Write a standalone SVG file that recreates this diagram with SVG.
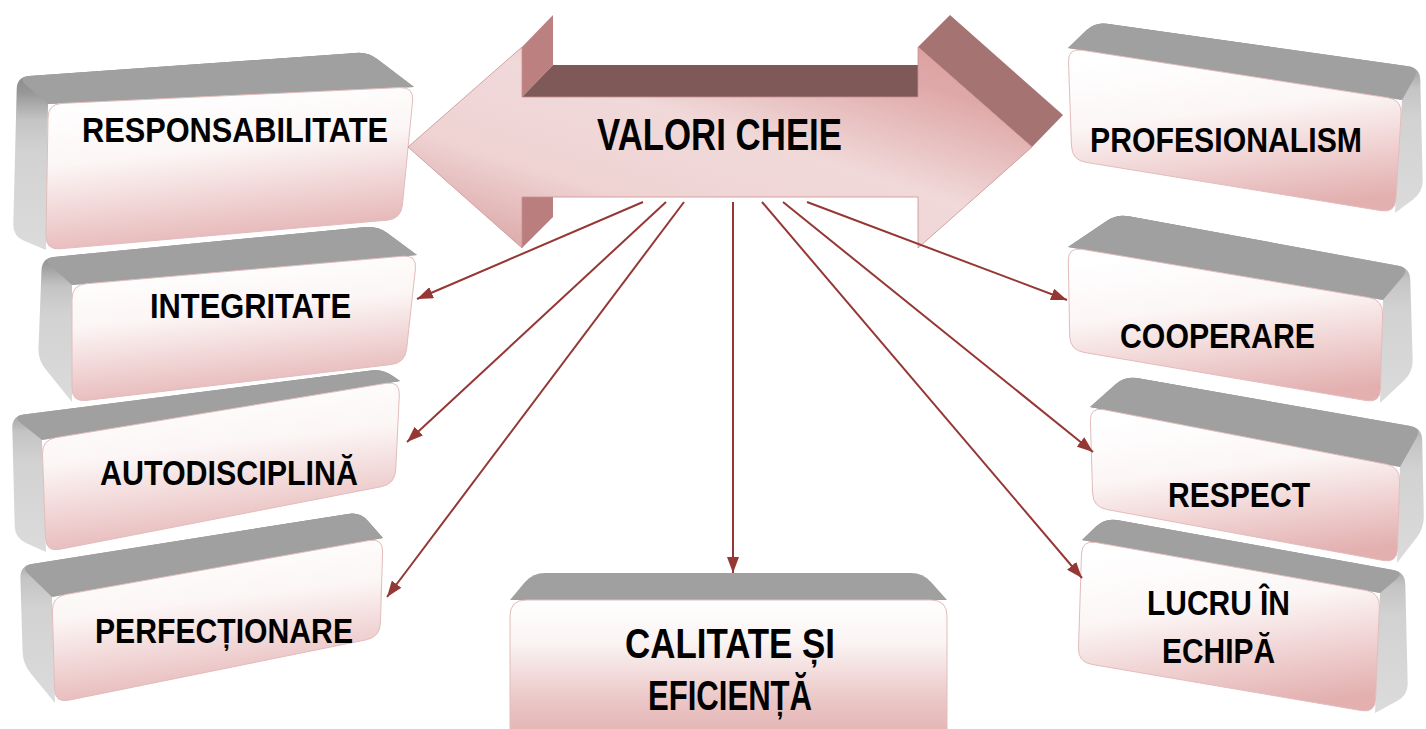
<svg xmlns="http://www.w3.org/2000/svg" width="1426" height="729" viewBox="0 0 1426 729">
<defs>
<linearGradient id="front" x1="0.35" y1="0" x2="0.6" y2="1">
<stop offset="0" stop-color="#ffffff"/>
<stop offset="0.38" stop-color="#fcf6f6"/>
<stop offset="0.72" stop-color="#efcfcf"/>
<stop offset="1" stop-color="#e3afaf"/>
</linearGradient>
<linearGradient id="frontC" x1="0" y1="0" x2="0" y2="1">
<stop offset="0" stop-color="#ffffff"/>
<stop offset="0.3" stop-color="#fbf4f4"/>
<stop offset="0.7" stop-color="#ecc8c8"/>
<stop offset="1" stop-color="#e2b0b0"/>
</linearGradient>
<linearGradient id="side" x1="0" y1="0" x2="0" y2="1">
<stop offset="0" stop-color="#7c7c7c"/>
<stop offset="0.2" stop-color="#979797"/>
<stop offset="0.34" stop-color="#c4c4c4"/>
<stop offset="0.5" stop-color="#d2d2d2"/>
<stop offset="1" stop-color="#dbdbdb"/>
</linearGradient>
<linearGradient id="arrowFront" x1="0" y1="1" x2="1" y2="0">
<stop offset="0" stop-color="#d69a9a"/>
<stop offset="0.3" stop-color="#efd3d3"/>
<stop offset="0.55" stop-color="#f1d9d9"/>
<stop offset="0.82" stop-color="#dfa8a8"/>
<stop offset="1" stop-color="#d99c9c"/>
</linearGradient>
<marker id="ah" markerWidth="16" markerHeight="12" refX="16" refY="6" orient="auto" markerUnits="userSpaceOnUse">
<path d="M0,0 L16,6 L0,12 Z" fill="#953735"/>
</marker>
</defs>
<style>
.top{fill:#a0a0a0}
.side{fill:url(#side)}
.face{fill:url(#front);stroke:#e2bcbc;stroke-width:1}
.lbl{font-family:"Liberation Sans",Arial,sans-serif;font-weight:bold;font-size:35px;fill:#000;text-anchor:middle}
.conn{stroke:#953735;stroke-width:2;fill:none;marker-end:url(#ah)}
</style>
<rect width="1426" height="729" fill="#ffffff"/>

<!-- Left column, drawn bottom to top -->
<g id="perfectionare">
<path class="side" d="M 55,703 L 30.6,673.3 Q 23,664 22.6,652 L 20.4,578 Q 20,566 31.9,564.1 L 348.1,513.9 Q 360,512 368,521 L 383,538 L 52,597 Z"/>
<path class="top" d="M 52,597 L 28.6,574.3 Q 20,566 31.9,564.1 L 348.1,513.9 Q 360,512 368,521 L 383,538 Z"/>
<path class="face" d="M 65.8,594.5 L 369.2,540.5 Q 383,538 382.6,552 L 380.4,623 Q 380,637 366.3,639.8 L 68.7,700.2 Q 55,703 54.6,689 L 52.4,611 Q 52,597 65.8,594.5 Z"/>
<text class="lbl" x="224" y="643" textLength="258" lengthAdjust="spacingAndGlyphs">PERFECȚIONARE</text>
</g>
<g id="autodisciplina">
<path class="side" d="M 46,552 L 25.9,542.9 Q 15,538 14.7,526 L 12.3,428 Q 12,416 23.9,414.5 L 371.1,370.5 Q 383,369 392.8,375.9 L 400,381 L 42,440 Z"/>
<path class="top" d="M 42,440 L 21.4,423.5 Q 12,416 23.9,414.5 L 371.1,370.5 Q 383,369 392.8,375.9 L 400,381 Z"/>
<path class="face" d="M 55.8,437.7 L 386.2,383.3 Q 400,381 399.3,395 L 395.7,470 Q 395,484 381.3,486.7 L 59.7,549.3 Q 46,552 45.5,538 L 42.5,454 Q 42,440 55.8,437.7 Z"/>
<text class="lbl" x="229" y="485" textLength="258" lengthAdjust="spacingAndGlyphs">AUTODISCIPLINĂ</text>
</g>
<g id="integritate">
<path class="side" d="M 72,402 L 45.6,369.3 Q 38,360 38.5,348 L 41.5,270 Q 42,258 53.9,256.9 L 366.1,227.1 Q 378,226 387.6,233.2 L 417,255 L 72,285 Z"/>
<path class="top" d="M 72,285 L 50.9,266 Q 42,258 53.9,256.9 L 366.1,227.1 Q 378,226 387.6,233.2 L 417,255 Z"/>
<path class="face" d="M 86,283.8 L 403,256.2 Q 417,255 415.4,269 L 406.6,349 Q 405,363 391,364.6 L 86,400.4 Q 72,402 72,388 L 72,299 Q 72,285 86,283.8 Z"/>
<text class="lbl" x="250.5" y="318" textLength="201" lengthAdjust="spacingAndGlyphs">INTEGRITATE</text>
</g>
<g id="responsabilitate">
<path class="side" d="M 46,250 L 24,240.7 Q 13,236 13.3,224 L 16.7,89 Q 17,77 29,76.1 L 356,52.9 Q 368,52 377.5,59.3 L 414,87 L 48,104 Z"/>
<path class="top" d="M 48,104 L 26,85 Q 17,77 29,76.1 L 356,52.9 Q 368,52 377.5,59.3 L 414,87 Z"/>
<path class="face" d="M 62,103.4 L 400,87.6 Q 414,87 412.6,101 L 402.4,205 Q 401,219 387,220.2 L 60,248.8 Q 46,250 46,236 L 48,118 Q 48,104 62,103.4 Z"/>
<text class="lbl" x="235" y="142" textLength="306" lengthAdjust="spacingAndGlyphs">RESPONSABILITATE</text>
</g>

<!-- Bottom centre -->
<g id="calitate">
<path class="top" d="M 545,573 L 911,573 Q 923,573 931,582 L 947,600 L 510,600 L 525,582 Q 533,573 545,573 Z"/>
<path d="M 526,600 L 931,600 Q 947,600 947,616 L 947,740 L 510,740 L 510,616 Q 510,600 526,600 Z" fill="url(#frontC)" stroke="#e2bcbc" stroke-width="1"/>
<text class="lbl" x="730" y="658" style="font-size:42px" textLength="210" lengthAdjust="spacingAndGlyphs">CALITATE ȘI</text>
<text class="lbl" x="730" y="710" style="font-size:42px" textLength="164" lengthAdjust="spacingAndGlyphs">EFICIENȚĂ</text>
</g>

<!-- Right column, drawn bottom to top -->
<g id="lucru-in-echipa">
<path class="side" d="M 1082,540 L 1096.3,526.3 Q 1105,518 1116.8,520.1 L 1393.2,569.9 Q 1405,572 1405.3,584 L 1407.7,683 Q 1408,695 1397.5,700.7 L 1375,713 L 1380,593 Z"/>
<path class="top" d="M 1082,540 L 1096.3,526.3 Q 1105,518 1116.8,520.1 L 1393.2,569.9 Q 1405,572 1395.8,579.7 L 1380,593 Z"/>
<path class="face" d="M 1095.8,542.5 L 1366.2,590.5 Q 1380,593 1379.4,607 L 1375.6,699 Q 1375,713 1361.2,710.6 L 1091.8,664.4 Q 1078,662 1078.5,648 L 1081.5,554 Q 1082,540 1095.8,542.5 Z"/>
<text class="lbl" x="1218.5" y="615" textLength="143" lengthAdjust="spacingAndGlyphs">LUCRU ÎN</text>
<text class="lbl" x="1218.5" y="663" textLength="113" lengthAdjust="spacingAndGlyphs">ECHIPĂ</text>
</g>
<g id="respect">
<path class="side" d="M 1090,407 L 1116,383.9 Q 1125,376 1136.8,378.1 L 1410.2,425.9 Q 1422,428 1422.2,440 L 1423.8,516 Q 1424,528 1416.7,537.5 L 1397,563 L 1400,467 Z"/>
<path class="top" d="M 1090,407 L 1116,383.9 Q 1125,376 1136.8,378.1 L 1410.2,425.9 Q 1422,428 1416.1,438.4 L 1400,467 Z"/>
<path class="face" d="M 1103.7,409.7 L 1386.3,464.3 Q 1400,467 1399.6,481 L 1397.4,549 Q 1397,563 1383.2,560.5 L 1106.8,509.5 Q 1093,507 1092.6,493 L 1090.4,421 Q 1090,407 1103.7,409.7 Z"/>
<text class="lbl" x="1239" y="507" textLength="142" lengthAdjust="spacingAndGlyphs">RESPECT</text>
</g>
<g id="cooperare">
<path class="side" d="M 1068,247 L 1107,220.7 Q 1117,214 1128.8,216.2 L 1398.2,265.8 Q 1410,268 1410.3,280 L 1412.7,360 Q 1413,372 1404.3,380.2 L 1380,403 L 1383,300 Z"/>
<path class="top" d="M 1068,247 L 1107,220.7 Q 1117,214 1128.8,216.2 L 1398.2,265.8 Q 1410,268 1402.3,277.2 L 1383,300 Z"/>
<path class="face" d="M 1081.8,249.3 L 1369.2,297.7 Q 1383,300 1382.6,314 L 1380.4,389 Q 1380,403 1366.2,400.6 L 1083.8,352.4 Q 1070,350 1069.7,336 L 1068.3,261 Q 1068,247 1081.8,249.3 Z"/>
<text class="lbl" x="1217.5" y="348" textLength="195" lengthAdjust="spacingAndGlyphs">COOPERARE</text>
</g>
<g id="profesionalism">
<path class="side" d="M 1068,48 L 1086.4,30.3 Q 1095,22 1106.9,23.7 L 1408.1,66.3 Q 1420,68 1420.3,80 L 1422.7,180 Q 1423,192 1413.4,199.2 L 1395,213 L 1402,100 Z"/>
<path class="top" d="M 1068,48 L 1086.4,30.3 Q 1095,22 1106.9,23.7 L 1408.1,66.3 Q 1420,68 1414.1,78.5 L 1402,100 Z"/>
<path class="face" d="M 1081.8,50.2 L 1388.2,97.8 Q 1402,100 1401.1,114 L 1395.9,199 Q 1395,213 1381.2,210.7 L 1085.8,162.3 Q 1072,160 1071.5,146 L 1068.5,62 Q 1068,48 1081.8,50.2 Z"/>
<text class="lbl" x="1226" y="152" textLength="272" lengthAdjust="spacingAndGlyphs">PROFESIONALISM</text>
</g>

<!-- Central double arrow -->
<g id="valori-cheie">
<polygon points="522,47 553,15 553,65 522,97" fill="#bd8080"/>
<polygon points="553,65 918,65 918,97 522,97" fill="#7f5858"/>
<polygon points="522,197 553,197 553,217 522,248" fill="#bb7e7e"/>
<polygon points="918,47 950,15 1063,115 1032,147" fill="#a67373"/>
<polygon points="408,147 522,47 522,97 918,97 918,47 1032,147 918,248 918,197 522,197 522,248" fill="url(#arrowFront)" stroke="#c99090" stroke-width="0.8"/>
<text class="lbl" x="719.5" y="150" style="font-size:45px" textLength="245" lengthAdjust="spacingAndGlyphs">VALORI CHEIE</text>
</g>

<g id="connectors">
<line class="conn" x1="643" y1="202" x2="417" y2="299"/>
<line class="conn" x1="666" y1="202" x2="407" y2="442"/>
<line class="conn" x1="684" y1="202" x2="387" y2="597"/>
<line class="conn" x1="733" y1="202" x2="733" y2="573"/>
<line class="conn" x1="762" y1="202" x2="1082" y2="578"/>
<line class="conn" x1="783" y1="202" x2="1093" y2="452"/>
<line class="conn" x1="807" y1="202" x2="1067" y2="300"/>
</g>
</svg>
